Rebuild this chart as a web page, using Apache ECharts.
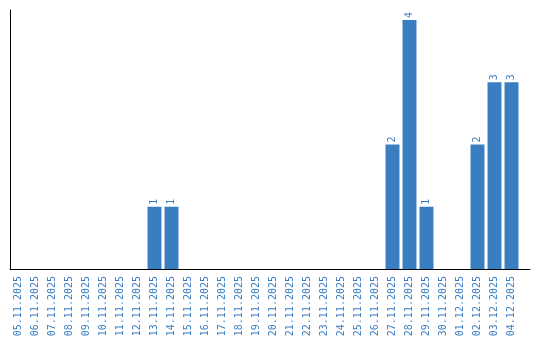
<!DOCTYPE html>
<html><head><meta charset="utf-8">
<script src="https://cdn.jsdelivr.net/npm/echarts@6/dist/echarts.min.js"></script>
<style>html,body{margin:0;padding:0;background:#fff}#c{width:540px;height:340px}</style>
</head><body><div id="c"></div>
<script>
const categories = ["05.11.2025","06.11.2025","07.11.2025","08.11.2025","09.11.2025","10.11.2025","11.11.2025","12.11.2025","13.11.2025","14.11.2025","15.11.2025","16.11.2025","17.11.2025","18.11.2025","19.11.2025","20.11.2025","21.11.2025","22.11.2025","23.11.2025","24.11.2025","25.11.2025","26.11.2025","27.11.2025","28.11.2025","29.11.2025","30.11.2025","01.12.2025","02.12.2025","03.12.2025","04.12.2025"];
const values = [0,0,0,0,0,0,0,0,1,1,0,0,0,0,0,0,0,0,0,0,0,0,2,4,1,0,0,2,3,3];
const blue = '#3a7ec2';
const chart = echarts.init(document.getElementById('c'), null, {renderer:'canvas'});
chart.setOption({
  animation:false,
  grid:[{left:10,right:20,top:10,bottom:71,containLabel:false},
        {left:10,right:10,top:10,bottom:71,containLabel:false}],
  xAxis:[{type:'category',data:categories,gridIndex:0,
    axisLine:{show:false},
    axisTick:{show:false},
    axisLabel:{rotate:90,interval:0,color:blue,fontFamily:'DejaVu Sans Mono',fontSize:10,margin:7}},
    {type:'value',gridIndex:1,min:0,max:1,
    axisLine:{show:true,lineStyle:{color:'#000',width:1}},
    axisTick:{show:false},axisLabel:{show:false},splitLine:{show:false}}],
  yAxis:[{type:'value',min:0,max:4.16,gridIndex:0,
    axisLine:{show:true,lineStyle:{color:'#000',width:1}},
    axisTick:{show:false},axisLabel:{show:false},splitLine:{show:false}},
    {type:'value',min:0,max:1,gridIndex:1,show:false}],
  series:[{type:'bar',data:values.map(v=>v===0?null:v),barCategoryGap:'18%',
    xAxisIndex:0,yAxisIndex:0,
    itemStyle:{color:blue},
    label:{show:true,position:'top',rotate:90,align:'left',verticalAlign:'middle',distance:2,
      color:blue,fontFamily:'DejaVu Sans Mono',fontSize:10}}]
});
</script></body></html>
